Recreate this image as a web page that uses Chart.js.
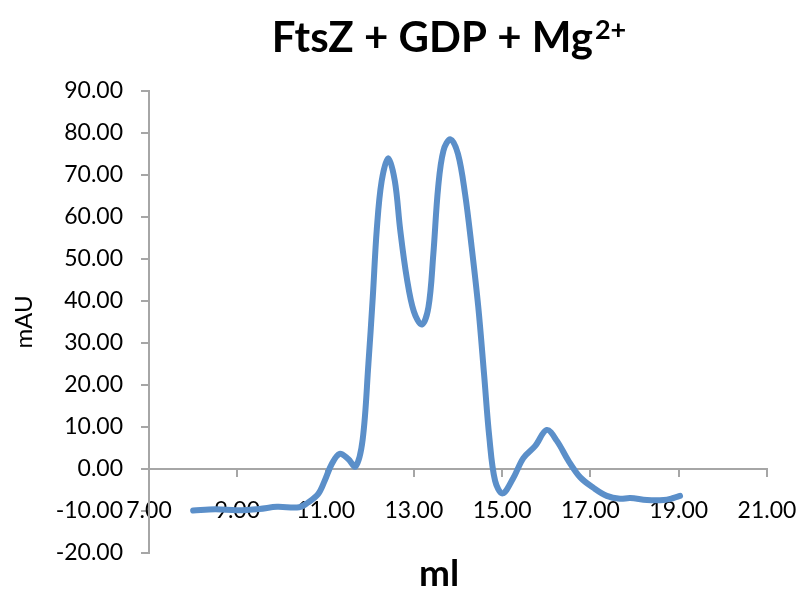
<!DOCTYPE html>
<html lang="en">

<head>
    <meta charset="UTF-8">
    <meta name="viewport" content="width=device-width, initial-scale=1.0">
    <script src="https://cdn.jsdelivr.net/npm/chart.js"></script> <!--biblioteca Chart.js-->
    <title>FtsZ + GDP + Mg2+</title>

    <style>
        body{
            margin: 0;
            background-color: #fff;
        }

        #chartContainer{
            position: relative;
            width: 803px;
            height: 594px;
        }
    </style>
</head>

<body>
    <div id="chartContainer">
        <canvas id="ftszChart"></canvas>
    </div>

    <script>
        const volumes = [8.00, 8.50, 9.00, 9.50, 9.90, 10.40, 10.60, 10.83, 10.98, 11.14, 11.32, 11.51, 11.68,
            11.84, 11.97, 12.07, 12.16, 12.27, 12.42, 12.57, 12.69, 12.84, 13.00, 13.18, 13.33, 13.44,
            13.55, 13.67, 13.83, 14.00, 14.16, 14.31, 14.46, 14.59, 14.71, 14.84, 15.01, 15.25, 15.48, 15.75,
            16.01, 16.24, 16.50, 16.77, 17.07, 17.37, 17.67, 17.90, 18.28, 18.66, 18.88, 19.03];
        const absorbance = [-9.9, -9.6, -9.8, -9.5, -9.0, -9.1, -8.0, -6.0, -2.8, 1.2, 3.6, 2.4, 0.6,
            7.0, 25.0, 41.0, 57.0, 68.5, 74.0, 68.5, 57.0, 45.5, 37.5, 34.4, 38.5, 51.0,
            67.0, 75.8, 78.5, 75.0, 65.5, 52.8, 38.5, 22.6, 7.5, -2.8, -5.8, -2.2, 2.6, 5.5,
            9.3, 6.7, 2.0, -2.0, -4.5, -6.4, -7.1, -6.9, -7.4, -7.4, -6.9, -6.4];

        const xTicks = [7, 9, 11, 13, 15, 17, 19, 21];
        const yTicks = [-20, -10, 0, 10, 20, 30, 40, 50, 60, 70, 80, 90];

        const axisColor = '#A6A6A6';
        const fontFamily = 'Lato, "Open Sans", sans-serif';

        // título com o "2+" sobrescrito e o título do eixo x
        const titlesPlugin = {
            id: 'titles',
            afterDraw(chart) {
                const c = chart.ctx;
                c.save();
                c.fillStyle = '#000';
                c.textBaseline = 'alphabetic';

                c.font = 'bold 42px ' + fontFamily;
                const main = 'FtsZ + GDP + Mg';
                const w1 = c.measureText(main).width;
                c.font = 'bold 27px ' + fontFamily;
                const w2 = c.measureText('2+').width;
                const x0 = 449 - (w1 + w2 + 2) / 2;
                c.font = 'bold 42px ' + fontFamily;
                c.fillText(main, x0, 52);
                c.font = 'bold 27px ' + fontFamily;
                c.fillText('2+', x0 + w1 + 2, 39);

                c.font = 'bold 37px ' + fontFamily;
                c.textAlign = 'center';
                c.fillText('ml', 439, 586);
                c.restore();
            }
        };

        const ctx = document.getElementById('ftszChart').getContext('2d');
        const ftszChart = new Chart(ctx, {
            type: 'line',
            data: {
                datasets: [{
                    label: 'FtsZ + GDP + Mg2+',
                    data: volumes.map((v, i) => ({ x: v, y: absorbance[i] })),
                    borderColor: '#5B8FC9',
                    borderWidth: 6,
                    pointRadius: 0,
                    fill: false,
                    tension: 0.35,
                    borderCapStyle: 'round',
                    borderJoinStyle: 'round'
                }]
            },
            options: {
                responsive: true,
                maintainAspectRatio: false,
                animation: false,
                layout: {
                    padding: { top: 91, right: 36, bottom: 41, left: 0 }
                },
                plugins: {
                    legend: { display: false },
                    title: { display: false },
                    tooltip: { enabled: false }
                },
                scales: {
                    x: {
                        type: 'linear',
                        position: { y: 0 },
                        min: xTicks[0],
                        max: xTicks[xTicks.length - 1],
                        afterBuildTicks: s => { s.ticks = xTicks.map(v => ({ value: v })); },
                        // os rótulos das pontas não devem mexer na área do gráfico
                        afterFit: s => { s.paddingLeft = 0; s.paddingRight = 0; },
                        grid: {
                            drawOnChartArea: false,
                            drawTicks: true,
                            tickLength: 7,
                            color: axisColor,
                            lineWidth: 2
                        },
                        border: { color: axisColor, width: 2 },
                        ticks: {
                            color: '#000',
                            padding: 21,
                            maxRotation: 0,
                            autoSkip: false,
                            font: { family: fontFamily, size: 23 },
                            callback: v => v.toFixed(2)
                        }
                    },
                    y: {
                        min: yTicks[0],
                        max: yTicks[yTicks.length - 1],
                        afterBuildTicks: s => { s.ticks = yTicks.map(v => ({ value: v })); },
                        afterFit: s => { s.width = 149; },
                        grid: {
                            drawOnChartArea: false,
                            drawTicks: true,
                            tickLength: 8,
                            color: axisColor,
                            lineWidth: 2
                        },
                        border: { color: axisColor, width: 2 },
                        ticks: {
                            color: '#000',
                            padding: 18,
                            autoSkip: false,
                            font: { family: fontFamily, size: 23 },
                            callback: v => v.toFixed(2)
                        },
                        title: {
                            display: true,
                            text: 'mAU',
                            color: '#000',
                            padding: { top: 10, bottom: 0 },
                            font: { family: fontFamily, size: 24 }
                        }
                    }
                }
            },
            plugins: [titlesPlugin]
        });
    </script>
</body>
</html>
